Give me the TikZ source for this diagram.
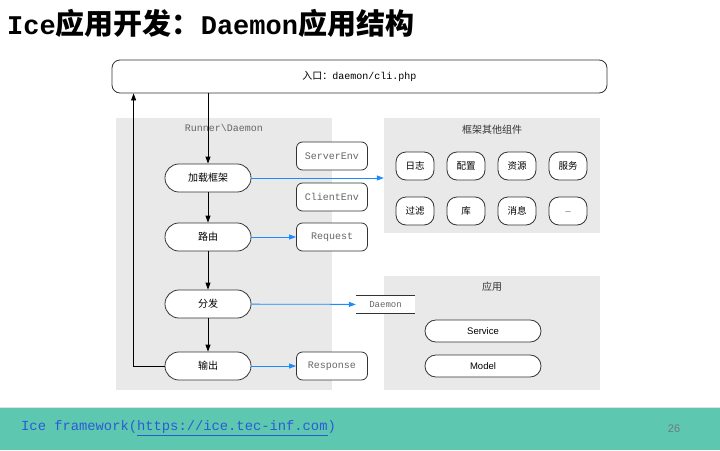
\documentclass[tikz,border=0pt]{standalone}
\usepackage{fontspec}
\setmainfont{Liberation Sans}
\setsansfont{Liberation Sans}
\setmonofont{Liberation Mono}
\newfontfamily\cjk{Noto Sans CJK SC}
\usepackage{tikz}
\usetikzlibrary{arrows.meta}
\definecolor{ink}{HTML}{333333}
\definecolor{panel}{HTML}{E9E9E9}
\definecolor{flowblue}{HTML}{1A8CFF}
\definecolor{muted}{HTML}{666666}
\definecolor{band}{HTML}{5EC7B0}
\definecolor{link}{HTML}{2A5BD7}
\definecolor{pagenum}{HTML}{6F7C7A}
\tikzset{
  panel/.style={fill=panel, draw=none, inner sep=0pt},
  stage/.style={draw=ink, fill=white, line width=0.8pt, rounded corners=13.9pt,
    minimum width=86pt, minimum height=28pt, inner sep=0pt, font=\cjk\fontsize{10}{12}\selectfont},
  part/.style={draw=ink, fill=white, line width=0.8pt, rounded corners=6pt,
    minimum width=71pt, minimum height=28pt, inner sep=0pt, text=muted, font=\ttfamily\fontsize{10}{12}\selectfont},
  comp/.style={draw=ink, fill=white, line width=0.8pt, rounded corners=10pt,
    minimum width=38pt, minimum height=28pt, inner sep=0pt, font=\cjk\fontsize{9.5}{11}\selectfont},
  appbox/.style={draw=ink, fill=white, line width=0.8pt, rounded corners=10.9pt,
    minimum width=116pt, minimum height=22pt, inner sep=0pt, font=\sffamily\fontsize{9.5}{11}\selectfont},
  flow/.style={draw=black, line width=0.8pt, -{Triangle[length=7pt,width=5pt]}},
  call/.style={draw=flowblue, line width=0.8pt, -{Triangle[length=7pt,width=5pt]}},
  lab/.style={text=ink, font=\cjk\fontsize{10}{12}\selectfont},
  labm/.style={text=muted, font=\ttfamily\fontsize{10}{12}\selectfont},
}

\begin{document}
\begin{tikzpicture}[x=1pt, y=-1pt]
  \useasboundingbox (0,0) rectangle (720,450);

  % title
  \node[anchor=west, inner sep=0pt] (title) at (7,23)
    {\fontsize{27}{30}\selectfont\ttfamily\bfseries Ice{\cjk\bfseries\fontsize{29}{30}\selectfont 应用开发：}Daemon{\cjk\bfseries\fontsize{29}{30}\selectfont 应用结构}};

  % panels
  \node[panel, minimum width=216pt, minimum height=272pt] (runner) at (224,254) {};
  \node[panel, minimum width=216pt, minimum height=115pt] (other) at (492,175.5) {};
  \node[panel, minimum width=216pt, minimum height=114pt] (app) at (492,333) {};
  \node[labm] (runnerlab) at (224,128) {Runner\textbackslash Daemon};
  \node[lab] (otherlab) at (492,130) {框架其他组件};
  \node[lab] (applab) at (492,287) {应用};

  % entry
  \node[draw=ink, fill=white, line width=0.8pt, rounded corners=8pt, minimum width=495pt,
    minimum height=33pt, inner sep=0pt, font=\ttfamily\fontsize{10}{12}\selectfont] (entry) at (359.5,76.5)
    {{\cjk 入口：}daemon/cli.php};

  % stages
  \node[stage] (load) at (208,178) {加载框架};
  \node[stage] (route) at (208,237) {路由};
  \node[stage] (dispatch) at (208,304) {分发};
  \node[stage] (output) at (208,366) {输出};

  \node[part] (server) at (332,156) {ServerEnv};
  \node[part] (client) at (332,197) {ClientEnv};
  \node[part] (request) at (332,237) {Request};
  \node[part] (response) at (332,366) {Response};
  \node[fill=white, minimum width=59pt, minimum height=17pt, inner sep=0pt,
    text=muted, font=\ttfamily\fontsize{9}{11}\selectfont] (daemon) at (385.5,304.5) {Daemon};
  \draw[ink, line width=0.8pt] (daemon.north west) -- (daemon.north east)
    (daemon.south west) -- (daemon.south east);

  % framework components
  \foreach \name/\txt [count=\i] in {log/日志, conf/配置, res/资源, svc/服务} {
    \node[comp] (\name) at ({415+51*(\i-1)},166) {\txt};
  }
  \foreach \name/\txt [count=\i] in {filter/过滤, lib/库, msg/消息} {
    \node[comp] (\name) at ({415+51*(\i-1)},211) {\txt};
  }
  \node[comp, text=muted, font=\sffamily\fontsize{9}{11}\selectfont] (more) at (568,211) {\vphantom{X}--};

  \node[appbox] (service) at (483,331) {Service};
  \node[appbox] (model) at (483,366) {Model};

  % arrows
  \draw[flow] (entry.south -| load.north) -- (load.north);
  \draw[flow] (load) -- (route);
  \draw[flow] (route) -- (dispatch);
  \draw[flow] (dispatch) -- (output);
  \draw[flow] (output.west) -| ([xshift=22pt]entry.south west);

  \draw[call] (load.east) -- (load.east -| other.west);
  \draw[call] (route) -- (request);
  \draw[call] (dispatch) -- (daemon);
  \draw[call] (output) -- (response);

  % footer
  \fill[band] (0,408) rectangle (720,450);
  \draw[black!12, line width=0.6pt] (0,407.7) -- (720,407.7);
  \node[anchor=west, inner sep=0pt, text=link, font=\ttfamily\fontsize{13.8}{16}\selectfont] (foot) at (21,428)
    {Ice framework(\underline{https://ice.tec-inf.com})};
  \node[text=pagenum, font=\sffamily\fontsize{11}{13}\selectfont] (page) at (674,429) {26};
\end{tikzpicture}
\end{document}
